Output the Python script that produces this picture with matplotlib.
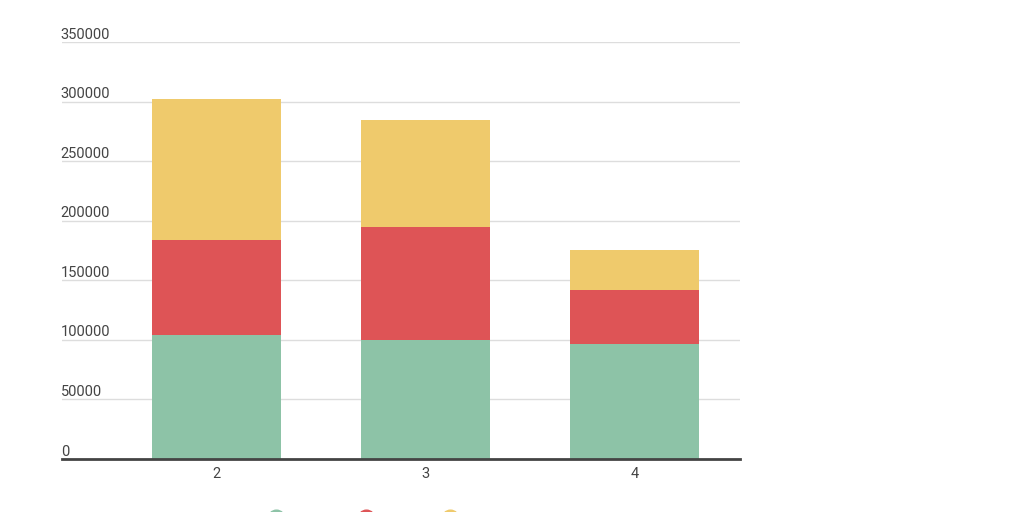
import numpy as np
import matplotlib.pyplot as plt
from matplotlib.lines import Line2D

# date
categorii = ["2", "3", "4"]
pozitii = [2, 3, 4]
seria_verde = [104000, 100000, 96500]
seria_rosie = [80000, 95000, 45500]
seria_galbena = [118000, 89500, 33500]
etichete_y = [0, 50000, 100000, 150000, 200000, 250000, 300000, 350000]

culori = ["#8dc3a7", "#de5456", "#efca6c"]

plt.rcParams["font.family"] = ["Roboto", "DejaVu Sans"]

fig = plt.figure(figsize=(10.24, 5.12), dpi=100)
ax = fig.add_axes([62/1024, 1 - 459/512, 678/1024, 417/512])

latime = 129/209
jos = np.zeros(3)
for valori, c in zip([seria_verde, seria_rosie, seria_galbena], culori):
    ax.bar(pozitii, valori, width=latime, bottom=jos, color=c, zorder=3)
    jos = jos + np.array(valori)

ax.set_xlim(2 - 154.5/209, 4 + 105.5/209)
ax.set_ylim(0, 350000)

# linii de grila si etichete deasupra lor
for v in etichete_y:
    if v > 0:
        ax.axhline(v, color="#dddddd", lw=1, zorder=1)
    ax.text(-0.002, v + 300, str(v), transform=ax.get_yaxis_transform(),
            ha="left", va="bottom", fontsize=10.5, color="#444444")

ax.set_yticks([])
ax.set_xticks(pozitii)
ax.set_xticklabels(categorii, fontsize=10.5, color="#444444")
ax.tick_params(axis="x", length=0, pad=6)

for s in ["top", "right", "left"]:
    ax.spines[s].set_visible(False)
ax.spines["bottom"].set_color("#444444")
ax.spines["bottom"].set_linewidth(2)
ax.spines["bottom"].set_zorder(5)

# legenda, taiata de marginea de jos
for xc, c in zip([276, 366, 450], culori):
    fig.add_artist(Line2D([xc/1024], [-6/512], marker="o", markersize=12,
                          color=c, transform=fig.transFigure, linestyle="none"))

fig.savefig("out.png", dpi=100)
